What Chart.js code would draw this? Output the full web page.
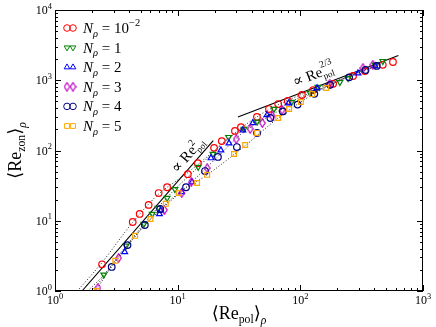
<!DOCTYPE html>
<html>
<head>
<meta charset="utf-8">
<script src="https://cdn.jsdelivr.net/npm/chart.js@4/dist/chart.umd.min.js"></script>
<style>body{margin:0;background:#fff}</style>
</head>
<body>
<canvas id="c" width="436" height="327"></canvas>
<script>
// series: <Re_pol> (x) and <Re_zon> (y) for each N_rho
const n001X = [2.42, 4.3, 4.9, 5.8, 7.0, 8.2, 12.1, 14.6, 19.8, 22.9, 29.3, 32.8, 44.3, 55.5, 66, 79, 103, 127, 185, 269, 336, 470, 569];
const n001Y = [2.4, 9.6, 12.5, 16.8, 24.8, 30, 46, 66, 109, 136, 190, 215, 300, 389, 458, 507, 617, 725, 890, 1150, 1350, 1660, 1820];
const n1X = [2.5, 3.8, 5.3, 6.2, 6.9, 8.2, 9.5, 14.7, 19.4, 26, 34.7, 44.5, 61, 85, 120, 139, 210, 245, 407, 470];
const n1Y = [1.7, 4.4, 9.0, 12.5, 15.2, 21, 28, 58, 89, 155, 203, 256, 390, 490, 660, 800, 940, 1070, 1660, 1870];
const n2X = [3.7, 7.1, 7.3, 10.8, 13.1, 18.7, 22.5, 26.2, 34, 41, 53.5, 80, 137, 295, 407];
const n2Y = [3.6, 12.5, 14, 25.7, 35.5, 78, 101, 127, 195, 246, 320, 470, 775, 1260, 1600];
const n3X = [2.24, 3.3, 7.8, 10.8, 12.9, 17.4, 30, 39, 49, 59, 71, 174, 324, 390];
const n3Y = [1.1, 2.95, 14.2, 24.8, 35.5, 56, 145, 203, 246, 310, 378, 890, 1490, 1660];
const n4X = [2.9, 3.9, 5.4, 7.2, 11.7, 16.7, 21.3, 30.4, 44.4, 57, 72, 95, 130, 175, 250, 340, 420];
const n4Y = [2.2, 4.5, 8.7, 14.7, 30, 51, 81, 112, 178, 290, 360, 450, 640, 860, 1100, 1400, 1600];
const n5X = [2.2, 3.1, 4.5, 6.0, 8.0, 10.2, 14.4, 17.4, 28.8, 35.5, 44.4, 66, 81, 101, 125, 162];
const n5Y = [1.0, 2.7, 6.1, 10.6, 17.4, 24.8, 34.5, 45, 89, 120, 178, 290, 390, 490, 635, 775];

// scaling laws (two end points each)
const re2X = [1.66, 19.5];
const re2Y = [1, 138];
const re23X = [31, 630];
const re23Y = [300, 2250];

// dotted fit curves
const fitAX = [1.52, 2.4, 4.3, 7, 12, 20, 33, 55, 100, 200, 400];
const fitAY = [1, 2.5, 9.5, 24, 48, 100, 210, 380, 620, 1000, 1550];
const fitBX = [1.85, 2.5, 3.8, 6.2, 9.5, 15, 26, 45, 85, 200, 450];
const fitBY = [1, 1.7, 4.4, 12.5, 28, 60, 150, 270, 500, 950, 1700];
const fitCX = [2.0, 2.9, 5.4, 11.7, 21, 34, 60, 130, 300, 450];
const fitCY = [1, 2.2, 8.7, 30, 80, 180, 330, 680, 1300, 1700];
const fitDX = [2.15, 3.1, 6, 10.2, 17.4, 35, 66, 125, 250, 450];
const fitDY = [1, 2.7, 10.6, 24.8, 45, 115, 290, 620, 1150, 1700];

const legendVals = ['10', '1', '2', '3', '4', '5'];
const legendSups = ['\u22122', '', '', '', '', ''];
const xExp = [0, 1, 2, 3];
const yExp = [0, 1, 2, 3, 4];

const FONT = '"Liberation Serif", "DejaVu Serif", serif';

function pts(xs, ys) { return xs.map((v, i) => ({x: v, y: ys[i]})); }

// thin diamond marker
const dia = document.createElement('canvas');
dia.width = 7; dia.height = 10;
(function () {
  const g = dia.getContext('2d');
  g.strokeStyle = '#bf00bf'; g.lineWidth = 1.2;
  g.beginPath(); g.moveTo(3.5, 0.8); g.lineTo(6.2, 5); g.lineTo(3.5, 9.2); g.lineTo(0.8, 5); g.closePath(); g.stroke();
})();

const markers = [
  {x: n001X, y: n001Y, color: '#ff0000', style: 'circle', rot: 0},
  {x: n1X, y: n1Y, color: '#008000', style: 'triangle', rot: 180},
  {x: n2X, y: n2Y, color: '#0000ff', style: 'triangle', rot: 0},
  {x: n3X, y: n3Y, color: '#bf00bf', style: dia, rot: 0},
  {x: n4X, y: n4Y, color: '#000080', style: 'circle', rot: 0},
  {x: n5X, y: n5Y, color: '#ffa500', style: 'rect', rot: 0}
];

const datasets = [];
markers.forEach((m, i) => {
  datasets.push({
    data: pts(m.x, m.y),
    showLine: false,
    pointStyle: m.style,
    rotation: m.rot,
    radius: m.style === 'rect' ? 3.4 : 3.3,
    borderColor: m.color,
    backgroundColor: 'rgba(0,0,0,0)',
    borderWidth: 1.2,
    order: 5 - i
  });
});
[[fitAX, fitAY], [fitBX, fitBY], [fitCX, fitCY], [fitDX, fitDY]].forEach(f => {
  datasets.push({data: pts(f[0], f[1]), showLine: true, pointRadius: 0, borderColor: '#222',
    borderWidth: 1, borderDash: [1, 2], tension: 0.3, order: 10});
});
[[re2X, re2Y], [re23X, re23Y]].forEach(f => {
  datasets.push({data: pts(f[0], f[1]), showLine: true, pointRadius: 0, borderColor: '#000',
    borderWidth: 1.1, order: 10});
});

// draw a row of text pieces: [text, size, dy, italic, stackOnPrevious]
function drawMath(ctx, segs, x, y, base, align) {
  const laid = [];
  let cur = 0, prevStart = 0, prevW = 0;
  segs.forEach(s => {
    ctx.font = (s[3] ? 'italic ' : '') + (base * s[1]) + 'px ' + FONT;
    const w = ctx.measureText(s[0]).width;
    if (s[4]) {
      laid.push({s, x: prevStart});
      cur = prevStart + Math.max(prevW, w);
    } else {
      laid.push({s, x: cur});
      prevStart = cur; prevW = w; cur += w;
    }
  });
  const off = align === 'center' ? -cur / 2 : align === 'right' ? -cur : 0;
  ctx.textBaseline = 'alphabetic';
  ctx.textAlign = 'left';
  laid.forEach(l => {
    ctx.font = (l.s[3] ? 'italic ' : '') + (base * l.s[1]) + 'px ' + FONT;
    ctx.fillText(l.s[0], x + off + l.x, y + base * l.s[2]);
  });
}

const decor = {
  id: 'decor',
  afterDraw(chart) {
    const {ctx, chartArea: a, scales: {x, y}} = chart;
    ctx.save();
    ctx.strokeStyle = '#000';
    ctx.lineWidth = 1;
    ctx.strokeRect(a.left + 0.5, a.top + 0.5, a.right - a.left - 1, a.bottom - a.top - 1);
    ctx.beginPath();
    for (let d = 0; d <= 3; d++) {
      for (let m = 1; m < 10; m++) {
        if (d === 3 && m > 1) break;
        const px = Math.round(x.getPixelForValue(m * Math.pow(10, d))) + 0.5;
        const len = m === 1 ? 6 : 3;
        ctx.moveTo(px, a.bottom); ctx.lineTo(px, a.bottom - len);
        ctx.moveTo(px, a.top); ctx.lineTo(px, a.top + len);
      }
    }
    for (let d = 0; d <= 4; d++) {
      for (let m = 1; m < 10; m++) {
        if (d === 4 && m > 1) break;
        const py = Math.round(y.getPixelForValue(m * Math.pow(10, d))) + 0.5;
        const len = m === 1 ? 6 : 3;
        ctx.moveTo(a.left, py); ctx.lineTo(a.left + len, py);
        ctx.moveTo(a.right, py); ctx.lineTo(a.right - len, py);
      }
    }
    ctx.stroke();

    ctx.fillStyle = '#000';
    xExp.forEach(e => {
      const px = x.getPixelForValue(Math.pow(10, e));
      drawMath(ctx, [['10', 1, 0], [String(e), 0.7, -0.45]], px, a.bottom + 13, 12, 'center');
    });
    yExp.forEach(e => {
      const py = y.getPixelForValue(Math.pow(10, e));
      drawMath(ctx, [['10', 1, 0], [String(e), 0.7, -0.45]], a.left - 3, py + 4, 12, 'right');
    });

    // axis titles
    drawMath(ctx, [['\u27E8Re', 1, 0], ['pol', 0.65, 0.22], ['\u27E9', 1, 0], ['\u03C1', 0.65, 0.3, true]],
      (a.left + a.right) / 2, 319, 18, 'center');
    ctx.save();
    ctx.translate(21, (a.top + a.bottom) / 2);
    ctx.rotate(-Math.PI / 2);
    drawMath(ctx, [['\u27E8Re', 1, 0], ['zon', 0.65, 0.22], ['\u27E9', 1, 0], ['\u03C1', 0.65, 0.3, true]],
      0, 0, 18, 'center');
    ctx.restore();

    // scaling annotations
    ctx.save();
    ctx.translate(191, 158);
    ctx.rotate(-49 * Math.PI / 180);
    drawMath(ctx, [['\u221D Re', 1, 0], ['2', 0.65, -0.45], ['pol', 0.6, 0.25, false, true]], 0, 0, 15, 'center');
    ctx.restore();
    ctx.save();
    ctx.translate(315, 79);
    ctx.rotate(-21 * Math.PI / 180);
    drawMath(ctx, [['\u221D Re', 1, 0], ['2/3', 0.65, -0.55], ['pol', 0.6, 0.25, false, true]], 0, 0, 15, 'center');
    ctx.restore();

    // legend
    markers.forEach((m, i) => {
      const ly = 28 + i * 19.6;
      ctx.strokeStyle = m.color;
      ctx.fillStyle = 'rgba(0,0,0,0)';
      [67, 73].forEach(lx => {
        Chart.helpers.drawPoint(ctx, {pointStyle: m.style, radius: m.style === 'rect' ? 3.4 : 3.3,
          rotation: m.rot, borderWidth: 1.2}, lx, ly);
      });
      ctx.fillStyle = '#000';
      const segs = [['N', 1, 0, true], ['\u03C1', 0.7, 0.25, true], [' = ' + legendVals[i], 1, 0]];
      if (legendSups[i]) segs.push([legendSups[i], 0.7, -0.45]);
      drawMath(ctx, segs, 83, ly + 5, 15, 'left');
    });
    ctx.restore();
  }
};

new Chart(document.getElementById('c'), {
  type: 'scatter',
  data: {datasets},
  options: {
    responsive: false,
    animation: false,
    layout: {padding: {left: 55, top: 10, right: 13, bottom: 36}},
    plugins: {legend: {display: false}, tooltip: {enabled: false}},
    scales: {
      x: {type: 'logarithmic', min: 1, max: 1000, display: false},
      y: {type: 'logarithmic', min: 1, max: 10000, display: false}
    }
  },
  plugins: [decor]
});
</script>
</body>
</html>
